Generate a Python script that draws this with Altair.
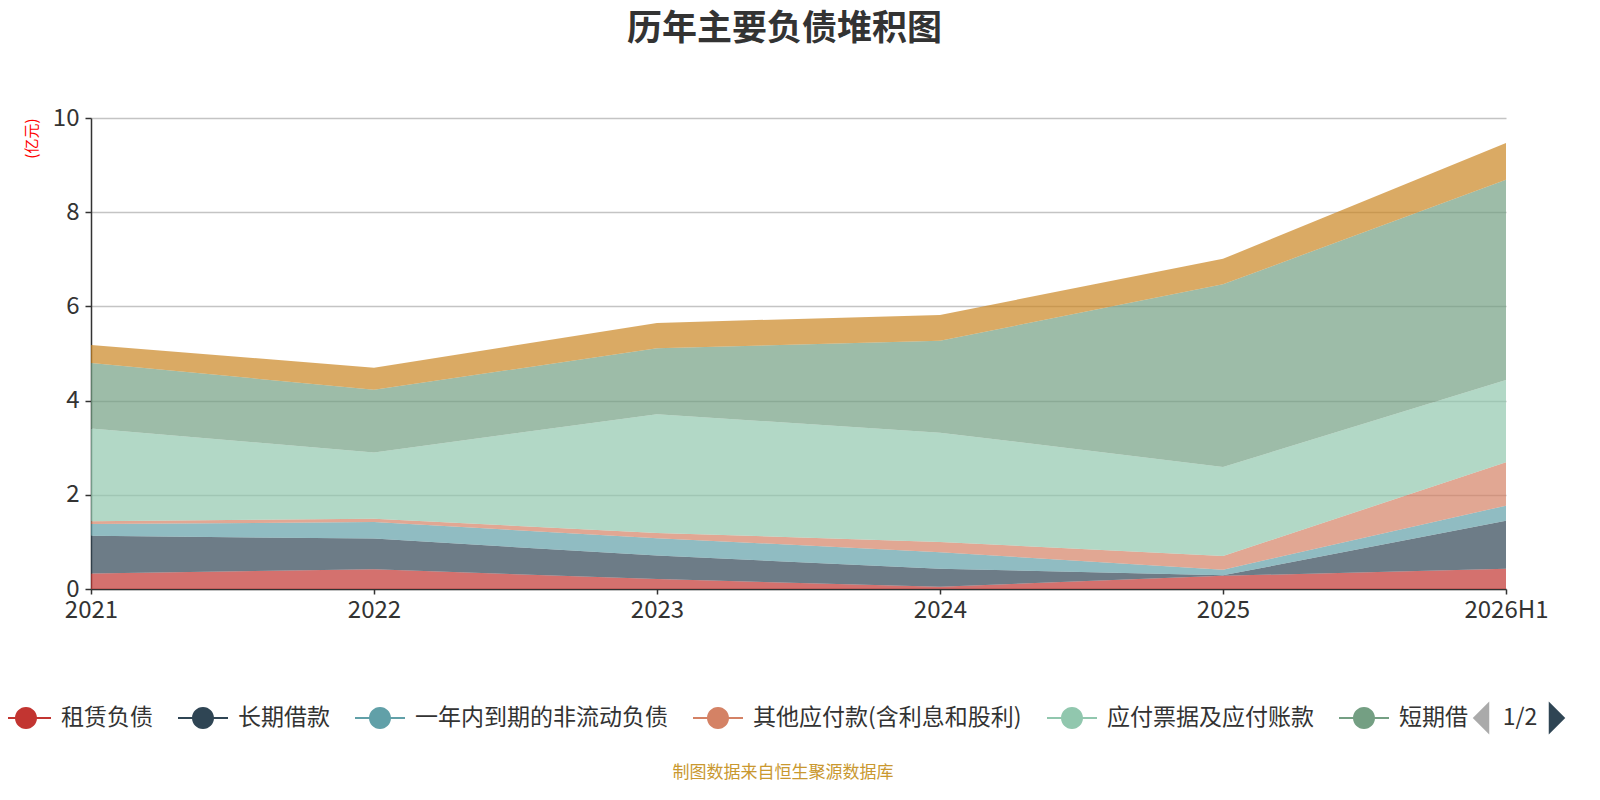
import altair as alt
import pandas as pd

years = ["2021", "2022", "2023", "2024", "2025", "2026H1"]
series_names = ["租赁负债", "长期借款", "一年内到期的非流动负债", "其他应付款(含利息和股利)",
                "应付票据及应付账款", "短期借款", "合同负债"]
colors = ["#c23531", "#2f4554", "#61a0a8", "#d48265", "#91c7ae", "#749f83", "#ca8622"]

lease = [0.33, 0.42, 0.21, 0.05, 0.28, 0.43]
long_loan = [0.80, 0.65, 0.50, 0.38, 0.01, 1.02]
current_noncurrent = [0.25, 0.35, 0.37, 0.35, 0.12, 0.32]
other_payable = [0.06, 0.07, 0.11, 0.22, 0.29, 0.92]
notes_payable = [1.97, 1.41, 2.52, 2.32, 1.89, 1.75]
short_loan = [1.39, 1.33, 1.40, 1.95, 3.88, 4.25]
contract_liab = [0.38, 0.47, 0.54, 0.55, 0.54, 0.78]

series_values = [lease, long_loan, current_noncurrent, other_payable,
                 notes_payable, short_loan, contract_liab]

rows = []
for i, (name, vals) in enumerate(zip(series_names, series_values)):
    for y, v in zip(years, vals):
        rows.append({"year": y, "series": name, "value": v, "idx": i})
df = pd.DataFrame(rows)

FONT = "Noto Sans CJK SC"
legend_symbol = ("M-1,-0.04L1,-0.04L1,0.04L-1,0.04Z "
                 "M-0.44,0A0.44,0.44,0,1,1,0.44,0A0.44,0.44,0,1,1,-0.44,0Z")

area = alt.Chart(df).mark_area(opacity=0.7, interpolate="linear").encode(
    x=alt.X("year:N", sort=years, scale=alt.Scale(type="point", padding=0),
            axis=alt.Axis(title=None, labelAngle=0, labelFontSize=24, labelColor="#333",
                          labelPadding=4, tickSize=5, tickColor="#333", domainColor="#333",
                          domainWidth=1.5, tickWidth=1.5, grid=False, labelFlush=False)),
    y=alt.Y("value:Q", stack="zero", scale=alt.Scale(domain=[0, 10], nice=False),
            axis=alt.Axis(values=[0, 2, 4, 6, 8, 10], title="(亿元)", titleColor="#ff0000",
                          titleFontSize=15, titleFontWeight="normal", titleAngle=270,
                          titleX=-60, titleY=0, titleAlign="right", titleBaseline="middle",
                          labelFontSize=24, labelColor="#333", labelPadding=6,
                          tickSize=6, tickColor="#333", domainColor="#333", domainWidth=1.5,
                          tickWidth=1.5, gridColor="#c4c4c4", gridWidth=1.3)),
    color=alt.Color("series:N", scale=alt.Scale(domain=series_names, range=colors),
                    legend=alt.Legend(values=series_names[:6], title=None, orient="none",
                                      legendX=-90, legendY=575, direction="horizontal",
                                      symbolType=legend_symbol, symbolSize=2500,
                                      symbolOpacity=1, symbolStrokeWidth=0,
                                      labelFontSize=23, labelColor="#333", labelOffset=10,
                                      columnPadding=25, padding=0, labelLimit=400,
                                      labelExpr="datum.label == '短期借款' ? '短期借' : datum.label")),
    order=alt.Order("idx:Q", sort="ascending"),
)

pager_df = pd.DataFrame({"t": ["1/2"]})
pager_text = alt.Chart(pager_df).mark_text(fontSize=23, color="#333", align="center",
                                           baseline="middle").encode(
    text="t:N", x=alt.value(1429), y=alt.value(600))
tri_left = alt.Chart(pager_df).mark_point(shape="M0.5,-1L0.5,1L-0.5,0Z", filled=True,
                                          size=1089, color="#aaaaaa", opacity=1).encode(
    x=alt.value(1390), y=alt.value(600))
tri_right = alt.Chart(pager_df).mark_point(shape="M-0.5,-1L-0.5,1L0.5,0Z", filled=True,
                                           size=1089, color="#2f4554", opacity=1).encode(
    x=alt.value(1466), y=alt.value(600))

footer_df = pd.DataFrame({"t": ["制图数据来自恒生聚源数据库"]})
footer = alt.Chart(footer_df).mark_text(fontSize=17, color="#c9982f", align="center",
                                        baseline="middle").encode(
    text="t:N", x=alt.value(692), y=alt.value(655))

chart = alt.layer(area, pager_text, tri_left, tri_right, footer).properties(
    width=1415, height=471,
    title=alt.TitleParams("历年主要负债堆积图", fontSize=35, fontWeight="bold", color="#333",
                          anchor="middle", offset=59, dx=-14),
    autosize=alt.AutoSizeParams(type="none"),
    padding={"left": 83, "top": 110, "right": 78, "bottom": 200},
).configure(font=FONT).configure_view(stroke=None)

chart.save("out.html", embed_options={"renderer": "svg", "actions": False})
